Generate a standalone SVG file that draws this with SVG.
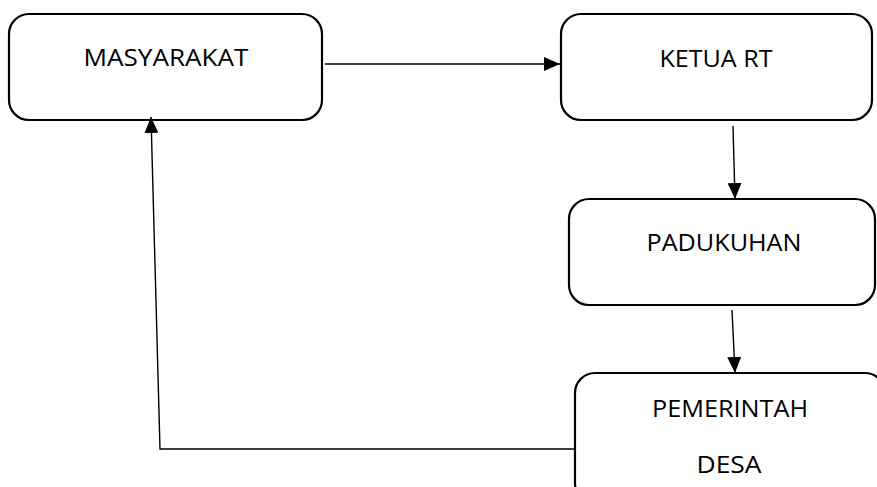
<svg xmlns="http://www.w3.org/2000/svg" width="877" height="487" viewBox="0 0 877 487">
<style>
.box{fill:#fff;stroke:#000;stroke-width:2.2}
.lbl{font-family:"Open Sans","Liberation Sans",sans-serif;font-size:24px;fill:#000;text-anchor:middle}
.con{fill:none;stroke:#000;stroke-width:1.4}
</style>
<defs>
<marker id="arr" markerWidth="16" markerHeight="14" refX="16" refY="7" orient="auto" markerUnits="userSpaceOnUse">
<path d="M0,0 L16,7 L0,14 Z" fill="#000"/>
</marker>
</defs>
<rect width="877" height="487" fill="#fff"/>
<g id="masyarakat"><rect class="box" x="9" y="14" width="313" height="106" rx="20"/><text class="lbl" x="166" y="66" textLength="165" lengthAdjust="spacingAndGlyphs">MASYARAKAT</text></g>
<g id="ketua-rt"><rect class="box" x="561" y="14" width="311" height="106" rx="20"/><text class="lbl" x="716" y="67" textLength="113" lengthAdjust="spacingAndGlyphs">KETUA RT</text></g>
<g id="padukuhan"><rect class="box" x="569" y="199" width="306" height="106" rx="20"/><text class="lbl" x="724" y="251" textLength="155" lengthAdjust="spacingAndGlyphs">PADUKUHAN</text></g>
<g id="pemerintah-desa"><rect class="box" x="575" y="373" width="310" height="130" rx="20"/><text class="lbl" x="730" y="417" textLength="156" lengthAdjust="spacingAndGlyphs">PEMERINTAH</text><text class="lbl" x="729" y="473" textLength="65" lengthAdjust="spacingAndGlyphs">DESA</text></g>
<g id="connectors">
<line class="con" x1="325" y1="64" x2="560" y2="64" marker-end="url(#arr)"/>
<line class="con" x1="733" y1="126" x2="735" y2="199" marker-end="url(#arr)"/>
<line class="con" x1="732" y1="310" x2="735" y2="373" marker-end="url(#arr)"/>
<polyline class="con" points="574,449 160,449 151,117" marker-end="url(#arr)"/>
</g>
</svg>
